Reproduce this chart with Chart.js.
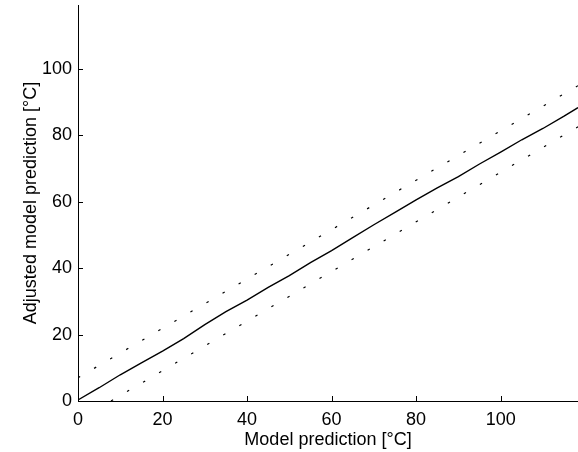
<!DOCTYPE html>
<html>
<head>
<meta charset="utf-8">
<script src="https://cdn.jsdelivr.net/npm/chart.js"></script>
<style>
  body { margin: 0; background: #fff; }
  canvas { display: block; }
</style>
</head>
<body>
<canvas id="adjChart" width="578" height="452"></canvas>
<script>
// values
var modelX = [0, 5, 10, 15, 20, 25, 30, 35, 40, 45, 50, 55, 60, 65, 70, 75, 80, 85, 90, 95, 100, 105, 110, 115, 118.3];
var adjusted = [0.3, 4.0, 7.9, 11.5, 15.0, 18.8, 23.0, 26.9, 30.4, 34.2, 37.8, 41.7, 45.3, 49.2, 53.1, 56.8, 60.6, 64.2, 67.6, 71.4, 75.0, 78.7, 82.1, 85.8, 88.4];
var upperX = [0, 118.3];
var upperY = [7.0, 95.0];
var lowerX = [7.8, 118.3];
var lowerY = [0, 82.6];
var xTicks = [0, 20, 40, 60, 80, 100];
var yTicks = [0, 20, 40, 60, 80, 100];

function pts(xs, ys) {
    return xs.map(function (x, i) { return { x: x, y: ys[i] }; });
}

// MATLAB style ticks pointing into the plot
var innerTicks = {
    id: 'innerTicks',
    afterDatasetsDraw: function (chart) {
        var c = chart.ctx, a = chart.chartArea;
        var xs = chart.scales.x, ys = chart.scales.y;
        c.save();
        c.strokeStyle = '#000';
        c.lineWidth = 1;
        c.beginPath();
        xTicks.forEach(function (v) {
            var px = Math.round(xs.getPixelForValue(v)) + 0.5;
            c.moveTo(px, a.bottom);
            c.lineTo(px, a.bottom - 5);
        });
        yTicks.forEach(function (v) {
            var py = Math.round(ys.getPixelForValue(v)) + 0.5;
            c.moveTo(a.left, py);
            c.lineTo(a.left + 5, py);
        });
        c.stroke();
        c.restore();
    }
};

var tickFont = { family: '"Liberation Sans", Arial, sans-serif', size: 18 };

var ctx = document.getElementById('adjChart');
var myChart = new Chart(ctx, {
    type: 'scatter',
    data: {
        datasets: [{
            data: pts(modelX, adjusted),
            showLine: true,
            borderColor: '#000',
            borderWidth: 1.4,
            pointRadius: 0,
            tension: 0
        }, {
            data: pts(upperX, upperY),
            showLine: true,
            borderColor: '#000',
            borderWidth: 1.2,
            borderDash: [2.5, 16.1],
            pointRadius: 0
        }, {
            data: pts(lowerX, lowerY),
            showLine: true,
            borderColor: '#000',
            borderWidth: 1.2,
            borderDash: [2.5, 16.1],
            pointRadius: 0
        }]
    },
    options: {
        responsive: false,
        animation: false,
        layout: { padding: { top: 5, right: 0, bottom: 0, left: 0 } },
        plugins: {
            legend: { display: false },
            tooltip: { enabled: false }
        },
        scales: {
            x: {
                type: 'linear',
                min: 0,
                max: 118.3,
                grid: { display: false, drawTicks: false },
                border: { display: true, color: '#000', width: 1 },
                ticks: {
                    stepSize: 20,
                    includeBounds: false,
                    autoSkip: false,
                    maxRotation: 0,
                    color: '#000',
                    padding: 8,
                    font: tickFont
                },
                title: {
                    display: true,
                    text: 'Model prediction [°C]',
                    color: '#000',
                    font: tickFont,
                    padding: { top: 0, bottom: 1 }
                },
                afterFit: function (s) {
                    s.height = 51;
                    s.paddingLeft = 0;
                    s.paddingRight = 0;
                }
            },
            y: {
                type: 'linear',
                min: 0,
                max: 119.3,
                grid: { display: false, drawTicks: false },
                border: { display: true, color: '#000', width: 1 },
                ticks: {
                    stepSize: 20,
                    includeBounds: false,
                    color: '#000',
                    padding: 6,
                    font: tickFont
                },
                title: {
                    display: true,
                    text: 'Adjusted model prediction [°C]',
                    color: '#000',
                    font: tickFont,
                    padding: { top: 20, bottom: 0 }
                },
                afterFit: function (s) {
                    s.width = 78;
                    s.paddingTop = 0;
                    s.paddingBottom = 0;
                }
            }
        }
    },
    plugins: [innerTicks]
});
</script>
</body>
</html>
